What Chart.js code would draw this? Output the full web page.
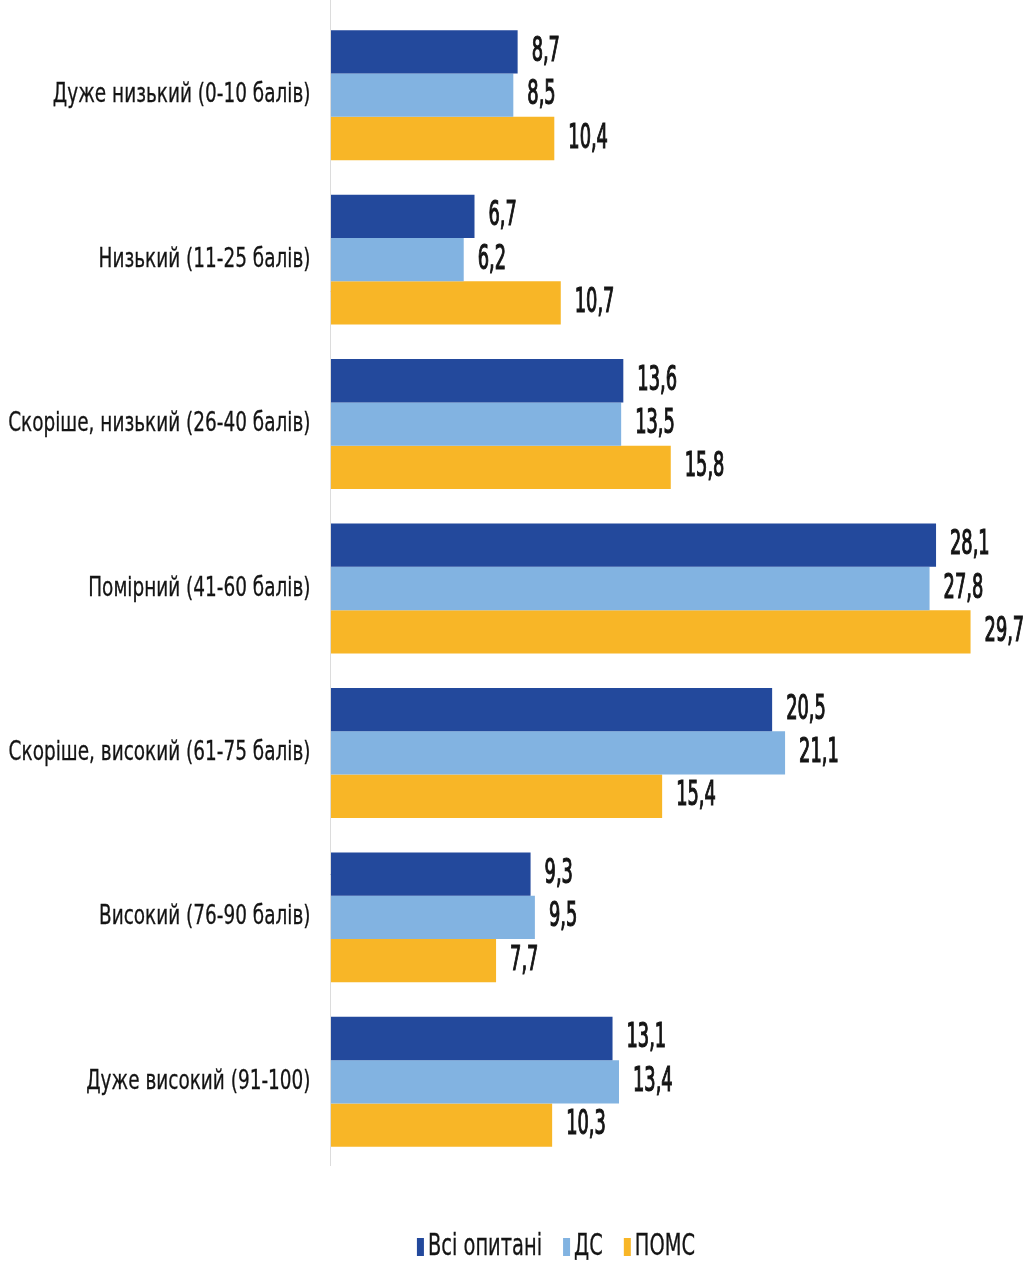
<!DOCTYPE html>
<html lang="uk">
<head>
<meta charset="utf-8">
<title>Рівні за шкалою</title>
<script src="https://cdn.jsdelivr.net/npm/chart.js@4/dist/chart.umd.min.js"></script>
<style>
  html, body { margin: 0; padding: 0; background: #fff; }
  #wrap { width: 1028px; height: 1263px; position: relative; }
</style>
</head>
<body>
<div id="wrap"><canvas id="levelsChart"></canvas></div>
<script>
// Категорії (рівні) та значення, %
const categories = [
    'Дуже низький (0-10 балів)',
    'Низький (11-25 балів)',
    'Скоріше, низький (26-40 балів)',
    'Помірний (41-60 балів)',
    'Скоріше, високий (61-75 балів)',
    'Високий (76-90 балів)',
    'Дуже високий (91-100)'
];
const allRespondents = [8.7, 6.7, 13.6, 28.1, 20.5, 9.3, 13.1];
const dsValues = [8.5, 6.2, 13.5, 27.8, 21.1, 9.5, 13.4];
const pomsValues = [10.4, 10.7, 15.8, 29.7, 15.4, 7.7, 10.3];
const seriesNames = ['Всі опитані', 'ДС', 'ПОМС'];
const seriesColors = ['#23499c', '#82b3e1', '#f8b627'];

const FONT = "'DejaVu Sans Condensed', 'Liberation Sans Narrow', sans-serif";
const TEXT_COLOR = '#141414';

// Вузький шрифт: стискаємо текст по горизонталі (stroke > 0 робить його трохи жирнішим)
function narrowText(ctx, text, x, y, font, squeeze, align, stroke) {
    ctx.save();
    ctx.font = font;
    ctx.textAlign = align;
    ctx.textBaseline = 'alphabetic';
    ctx.translate(x, y);
    ctx.scale(squeeze, 1);
    ctx.fillText(text, 0, 0);
    if (stroke) {
        ctx.strokeStyle = ctx.fillStyle;
        ctx.lineWidth = stroke;
        ctx.strokeText(text, 0, 0);
    }
    const w = ctx.measureText(text).width * squeeze;
    ctx.restore();
    return w;
}

// Вісь, підписи категорій, значення та легенда
const customDraw = {
    id: 'customDraw',
    afterDatasetsDraw(chart) {
        const ctx = chart.ctx;
        const xs = chart.scales.x;
        const ys = chart.scales.y;
        const area = chart.chartArea;
        ctx.save();
        ctx.fillStyle = TEXT_COLOR;

        // вертикальна вісь
        const x0 = Math.round(xs.getPixelForValue(0)) + 0.5;
        ctx.strokeStyle = '#dcdcdc';
        ctx.lineWidth = 1;
        ctx.beginPath();
        ctx.moveTo(x0, 0);
        ctx.lineTo(x0, area.bottom + 2);
        ctx.stroke();

        // підписи категорій
        chart.data.labels.forEach((lab, i) => {
            const y = ys.getPixelForTick(i);
            narrowText(ctx, lab, x0 - 20, y + 7, '27px ' + FONT, 0.76, 'right', 0.3);
        });

        // значення біля смуг
        chart.data.datasets.forEach((ds, i) => {
            chart.getDatasetMeta(i).data.forEach((bar, j) => {
                const txt = ds.data[j].toFixed(1).replace('.', ',');
                narrowText(ctx, txt, bar.x + 14, bar.y + 9, '33px ' + FONT, 0.6, 'left', 1.2);
            });
        });

        // легенда
        const lgY = 1255;
        const lgFont = '30px ' + FONT;
        const lgSqueeze = 0.72;
        const boxW = 7, boxH = 18, gap = 4, itemGap = 21;
        ctx.font = lgFont;
        const widths = chart.data.datasets.map(ds => ctx.measureText(ds.label).width * lgSqueeze);
        const total = widths.reduce((s, w) => s + boxW + gap + w, 0) + itemGap * (widths.length - 1);
        let lx = 556 - total / 2;
        chart.data.datasets.forEach((ds, i) => {
            ctx.fillStyle = ds.backgroundColor;
            ctx.fillRect(lx, lgY - boxH + 1, boxW, boxH);
            lx += boxW + gap;
            ctx.fillStyle = TEXT_COLOR;
            narrowText(ctx, ds.label, lx, lgY, lgFont, lgSqueeze, 'left', 0.3);
            lx += widths[i] + itemGap;
        });
        ctx.restore();
    }
};

const ctx = document.getElementById('levelsChart');
new Chart(ctx, {
    type: 'bar',
    data: {
        labels: categories,
        datasets: seriesNames.map((name, i) => ({
            label: name,
            data: [allRespondents, dsValues, pomsValues][i],
            backgroundColor: seriesColors[i]
        }))
    },
    options: {
        indexAxis: 'y',
        responsive: true,
        maintainAspectRatio: false,
        animation: false,
        datasets: {
            bar: {
                barPercentage: 1.0,
                categoryPercentage: 0.79
            }
        },
        layout: {
            padding: { top: 13, right: 10, left: 0, bottom: 99 }
        },
        plugins: {
            legend: { display: false },
            tooltip: { enabled: false }
        },
        scales: {
            x: {
                display: false,
                min: 0,
                max: 31.9
            },
            y: {
                grid: { display: false, drawTicks: false },
                border: { display: false },
                ticks: { display: false },
                afterFit: (scale) => { scale.width = 330; }
            }
        }
    },
    plugins: [customDraw]
});
</script>
</body>
</html>
